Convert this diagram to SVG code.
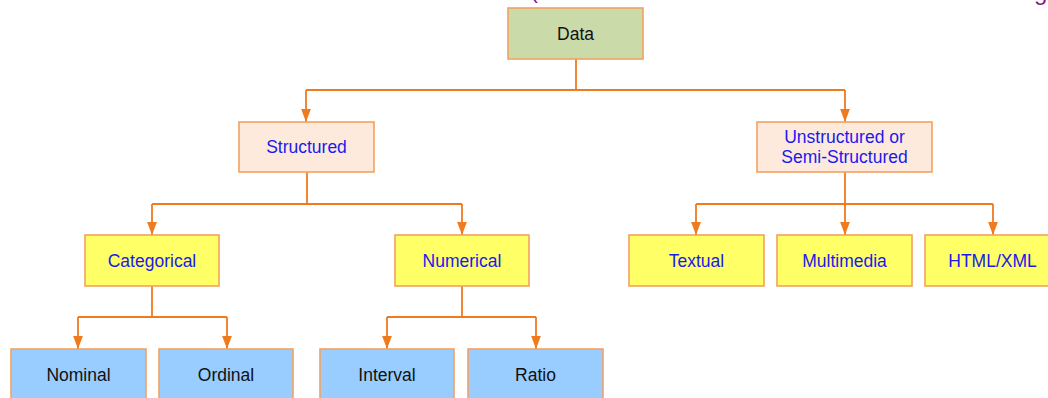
<svg xmlns="http://www.w3.org/2000/svg" width="1048" height="398" viewBox="0 0 1048 398">
<defs>
<style>
.box{stroke:#f3a260;stroke-width:1.6}
.green{fill:#cadaa9}
.peach{fill:#fdeadd}
.yellow{fill:#ffff66}
.blue{fill:#99ccff}
.t{font-family:"Liberation Sans",Arial,sans-serif;font-size:17.5px;text-anchor:middle}
.tb{fill:#1a1aee}
.tk{fill:#111111}
.conn path{fill:none;stroke:#f07a1e;stroke-width:1.8}
.title{font-family:"Liberation Sans",Arial,sans-serif;font-size:24px;fill:#8a1a8a}
</style>
<marker id="arr" markerUnits="userSpaceOnUse" markerWidth="13" markerHeight="10" refX="12" refY="4.5" orient="auto" viewBox="0 0 12 9">
<path d="M0,0 L12,4.5 L0,9 Z" fill="#f07a1e"/>
</marker>
</defs>
<rect width="1048" height="398" fill="#ffffff"/>
<text class="title" x="530" y="-2">(</text>
<text class="title" x="1034" y="0">g</text>
<g class="conn">
<path d="M576,59 V90 M306,90 H845"/>
<path d="M306,90 V122" marker-end="url(#arr)"/>
<path d="M845,90 V122" marker-end="url(#arr)"/>
<path d="M307,172 V204 M152,204 H462"/>
<path d="M152,204 V235" marker-end="url(#arr)"/>
<path d="M462,204 V235" marker-end="url(#arr)"/>
<path d="M845,172 V235" marker-end="url(#arr)"/>
<path d="M696,204 H993"/>
<path d="M696,204 V235" marker-end="url(#arr)"/>
<path d="M993,204 V235" marker-end="url(#arr)"/>
<path d="M152,286 V317 M78,317 H227"/>
<path d="M78,317 V349" marker-end="url(#arr)"/>
<path d="M227,317 V349" marker-end="url(#arr)"/>
<path d="M462,286 V317 M387,317 H536"/>
<path d="M387,317 V349" marker-end="url(#arr)"/>
<path d="M536,317 V349" marker-end="url(#arr)"/>
</g>
<g id="data"><rect class="box green" x="508" y="8" width="135" height="51"/><text class="t tk" x="575.5" y="39.5">Data</text></g>
<g id="structured"><rect class="box peach" x="239" y="122" width="135" height="50"/><text class="t tb" x="306.5" y="153">Structured</text></g>
<g id="unstructured"><rect class="box peach" x="757" y="122" width="175" height="50"/><text class="t tb" x="844.5" y="142.5">Unstructured or</text><text class="t tb" x="844.5" y="162.5">Semi-Structured</text></g>
<g id="categorical"><rect class="box yellow" x="85" y="235" width="134" height="51"/><text class="t tb" x="152" y="266.5">Categorical</text></g>
<g id="numerical"><rect class="box yellow" x="395" y="235" width="134" height="51"/><text class="t tb" x="462" y="266.5">Numerical</text></g>
<g id="textual"><rect class="box yellow" x="629" y="235" width="135" height="51"/><text class="t tb" x="696.5" y="266.5">Textual</text></g>
<g id="multimedia"><rect class="box yellow" x="777" y="235" width="135" height="51"/><text class="t tb" x="844.5" y="266.5">Multimedia</text></g>
<g id="htmlxml"><rect class="box yellow" x="925" y="235" width="135" height="51"/><text class="t tb" x="992.5" y="266.5">HTML/XML</text></g>
<g id="nominal"><rect class="box blue" x="11" y="349" width="135" height="51"/><text class="t tk" x="78.5" y="380.5">Nominal</text></g>
<g id="ordinal"><rect class="box blue" x="159" y="349" width="134" height="51"/><text class="t tk" x="226" y="380.5">Ordinal</text></g>
<g id="interval"><rect class="box blue" x="320" y="349" width="134" height="51"/><text class="t tk" x="387" y="380.5">Interval</text></g>
<g id="ratio"><rect class="box blue" x="468" y="349" width="135" height="51"/><text class="t tk" x="535.5" y="380.5">Ratio</text></g>
</svg>
